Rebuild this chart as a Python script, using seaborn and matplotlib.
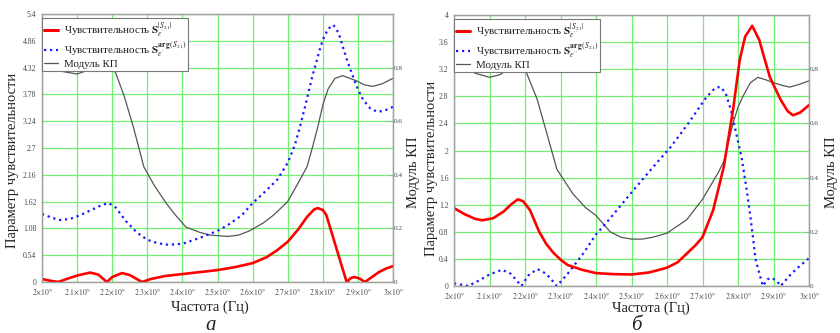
import numpy as np
import pandas as pd
import matplotlib
matplotlib.use("Agg")
import matplotlib.pyplot as plt
from matplotlib.lines import Line2D
import seaborn as sns

# ---------------- data (frequency in GHz, shown as Hz) ----------------
# Panel a (epsilon')
fa_red = [2.00, 2.02, 2.046, 2.07, 2.10, 2.137, 2.16, 2.185, 2.20, 2.228, 2.25, 2.285, 2.31, 2.35,
          2.40, 2.45, 2.50, 2.55, 2.60, 2.64, 2.67, 2.70, 2.73, 2.755, 2.775, 2.786, 2.80, 2.81,
          2.825, 2.84, 2.855, 2.868, 2.88, 2.89, 2.905, 2.92, 2.94, 2.96, 2.98, 3.00]
sa_mag = [0.06, 0.03, 0.0, 0.06, 0.13, 0.19, 0.15, 0.0, 0.10, 0.18, 0.14, 0.0, 0.06, 0.12,
          0.16, 0.20, 0.24, 0.30, 0.38, 0.50, 0.64, 0.81, 1.06, 1.31, 1.46, 1.49, 1.45, 1.35,
          1.00, 0.65, 0.30, 0.0, 0.08, 0.10, 0.07, 0.0, 0.10, 0.20, 0.27, 0.32]

fa_blue = [2.00, 2.03, 2.05, 2.08, 2.11, 2.14, 2.17, 2.19, 2.21, 2.24, 2.27, 2.30, 2.33, 2.36,
           2.40, 2.45, 2.50, 2.53, 2.57, 2.60, 2.64, 2.67, 2.70, 2.72, 2.735, 2.75, 2.77, 2.79,
           2.80, 2.815, 2.83, 2.845, 2.857, 2.87, 2.886, 2.90, 2.915, 2.935, 2.955, 2.975, 3.00]
sa_arg = [1.37, 1.29, 1.25, 1.27, 1.35, 1.45, 1.55, 1.59, 1.50, 1.22, 1.00, 0.85, 0.78, 0.75,
          0.77, 0.89, 1.03, 1.15, 1.35, 1.59, 1.85, 2.06, 2.40, 2.75, 3.13, 3.55, 4.14, 4.65,
          4.88, 5.10, 5.18, 5.02, 4.74, 4.45, 4.14, 3.88, 3.67, 3.50, 3.43, 3.45, 3.53]

fa_gray = [2.00, 2.03, 2.06, 2.10, 2.13, 2.155, 2.175, 2.19, 2.21, 2.235, 2.26, 2.29, 2.32, 2.356,
           2.38, 2.41, 2.45, 2.48, 2.53, 2.56, 2.59, 2.63, 2.66, 2.70, 2.73, 2.755, 2.77, 2.786,
           2.80, 2.815, 2.835, 2.857, 2.877, 2.897, 2.92, 2.943, 2.97, 3.00]
ka_mod = [0.84, 0.81, 0.785, 0.776, 0.79, 0.81, 0.817, 0.81, 0.78, 0.69, 0.58, 0.43, 0.36, 0.29,
          0.25, 0.205, 0.185, 0.175, 0.17, 0.175, 0.19, 0.22, 0.25, 0.30, 0.37, 0.43, 0.50, 0.58,
          0.66, 0.72, 0.76, 0.77, 0.76, 0.75, 0.735, 0.73, 0.74, 0.76]

# Panel b (epsilon'')
fb_red = [2.00, 2.03, 2.06, 2.08, 2.11, 2.14, 2.16, 2.18, 2.195, 2.214, 2.24, 2.26, 2.28, 2.30,
          2.32, 2.36, 2.40, 2.45, 2.50, 2.55, 2.60, 2.63, 2.656, 2.68, 2.70, 2.73, 2.76, 2.786,
          2.805, 2.82, 2.84, 2.86, 2.875, 2.89, 2.92, 2.94, 2.955, 2.975, 3.00]
sb_mag = [1.15, 1.06, 0.99, 0.97, 1.00, 1.10, 1.20, 1.28, 1.25, 1.12, 0.80, 0.62, 0.49, 0.39,
          0.31, 0.24, 0.19, 0.175, 0.17, 0.20, 0.27, 0.35, 0.48, 0.60, 0.72, 1.12, 1.76, 2.60,
          3.34, 3.68, 3.84, 3.63, 3.35, 3.08, 2.75, 2.58, 2.52, 2.56, 2.67]

fb_blue = [2.00, 2.02, 2.04, 2.07, 2.10, 2.135, 2.16, 2.19, 2.21, 2.235, 2.26, 2.29, 2.32, 2.36,
           2.40, 2.44, 2.50, 2.56, 2.61, 2.66, 2.71, 2.735, 2.75, 2.765, 2.78, 2.795, 2.81, 2.825,
           2.835, 2.85, 2.87, 2.883, 2.895, 2.91, 2.92, 2.95, 2.975, 3.00]
sb_arg = [0.04, 0.02, 0.0, 0.08, 0.17, 0.24, 0.18, 0.0, 0.16, 0.25, 0.18, 0.0, 0.18, 0.45,
          0.76, 1.00, 1.38, 1.75, 2.05, 2.40, 2.78, 2.92, 2.94, 2.85, 2.60, 2.25, 1.90, 1.40,
          1.02, 0.38, 0.0, 0.10, 0.12, 0.07, 0.0, 0.18, 0.30, 0.41]

fb_gray = [2.00, 2.03, 2.06, 2.10, 2.13, 2.16, 2.18, 2.20, 2.234, 2.26, 2.29, 2.335, 2.37, 2.40,
           2.44, 2.47, 2.50, 2.53, 2.56, 2.60, 2.656, 2.70, 2.745, 2.76, 2.786, 2.80, 2.814,
           2.835, 2.856, 2.88, 2.90, 2.925, 2.946, 2.975, 3.00]
kb_mod = [0.845, 0.81, 0.785, 0.77, 0.78, 0.81, 0.82, 0.80, 0.69, 0.57, 0.43, 0.34, 0.29, 0.26,
          0.20, 0.18, 0.173, 0.173, 0.18, 0.195, 0.245, 0.32, 0.42, 0.46, 0.60, 0.66, 0.70,
          0.75, 0.77, 0.76, 0.75, 0.74, 0.734, 0.745, 0.757]

xtick_vals = [2.0, 2.1, 2.2, 2.3, 2.4, 2.5, 2.6, 2.7, 2.8, 2.9, 3.0]
xtick_labels = [r"$2{\times}10^{9}$", r"$2.1{\times}10^{9}$", r"$2.2{\times}10^{9}$", r"$2.3{\times}10^{9}$",
                r"$2.4{\times}10^{9}$", r"$2.5{\times}10^{9}$", r"$2.6{\times}10^{9}$", r"$2.7{\times}10^{9}$",
                r"$2.8{\times}10^{9}$", r"$2.9{\times}10^{9}$", r"$3{\times}10^{9}$"]
ya_ticks = [0, 0.54, 1.08, 1.62, 2.16, 2.7, 3.24, 3.78, 4.32, 4.86, 5.4]
ya_labels = ["0", "0.54", "1.08", "1.62", "2.16", "2.7", "3.24", "3.78", "4.32", "4.86", "5.4"]
yb_ticks = [0, 0.4, 0.8, 1.2, 1.6, 2.0, 2.4, 2.8, 3.2, 3.6, 4.0]
yb_labels = ["0", "0.4", "0.8", "1.2", "1.6", "2", "2.4", "2.8", "3.2", "3.6", "4"]
yr_ticks = [0, 0.2, 0.4, 0.6, 0.8]
yr_labels = ["0", "0.2", "0.4", "0.6", "0.8"]

# ---------------- style ----------------
sns.set_theme(style="white")
plt.rcParams["font.family"] = ["Liberation Serif", "DejaVu Serif"]
plt.rcParams["mathtext.fontset"] = "stix"

RED = "#ff0000"
BLUE = "#1a1aff"
GRAY = "#555555"
GRID = "#72ee72"
SPINE = "#a0a0a0"
DOTS = (0, (1, 1.7))

fig = plt.figure(figsize=(8.4, 3.33), dpi=100)
W, H = 840.0, 333.0


def make_axes(x0, x1, y0, y1):
    return fig.add_axes([x0 / W, 1 - y1 / H, (x1 - x0) / W, (y1 - y0) / H])


def draw_panel(ax, fr, mag, fbl, arg, fg, mod, ymax, yticks, ylabels, sub):
    df_r = pd.DataFrame({"f": fr, "v": mag})
    df_b = pd.DataFrame({"f": fbl, "v": arg})
    df_g = pd.DataFrame({"f": fg, "v": mod})
    ax2 = ax.twinx()
    sns.lineplot(data=df_g, x="f", y="v", ax=ax2, color=GRAY, lw=0.9, sort=False)
    sns.lineplot(data=df_b, x="f", y="v", ax=ax, color=BLUE, lw=1.6, linestyle=DOTS, sort=False)
    sns.lineplot(data=df_r, x="f", y="v", ax=ax, color=RED, lw=1.9, sort=False)
    ax.set_zorder(ax2.get_zorder() + 1)
    ax.patch.set_visible(False)
    ax2.patch.set_visible(True)
    ax2.patch.set_facecolor("white")

    ax.set_xlim(2.0, 3.0)
    ax.set_ylim(0, ymax)
    ax2.set_ylim(0, 1.0)
    ax.set_xticks(xtick_vals)
    ax.set_xticklabels(xtick_labels, fontsize=5.5, color="#444444")
    ax.set_yticks(yticks)
    ax.set_yticklabels(ylabels, fontsize=5.5, color="#444444")
    ax2.set_yticks(yr_ticks)
    ax2.set_yticklabels(yr_labels, fontsize=5.2, color="#444444")
    ax.set_xlabel("")
    ax.set_ylabel("")
    ax2.set_ylabel("")
    ax.tick_params(axis="y", length=0, pad=4)
    ax.tick_params(axis="x", length=0, pad=3)
    ax2.tick_params(axis="y", length=3, width=0.6, color=SPINE, pad=0.5, direction="in")
    # grid drawn on the background (twin) axes
    for xv in xtick_vals:
        ax2.axvline(xv, color=GRID, lw=0.9, zorder=0)
    for yv in yticks:
        ax2.axhline(yv / ymax, color=GRID, lw=0.9, zorder=0)
    for a in (ax, ax2):
        for s in a.spines.values():
            s.set_color(SPINE)
            s.set_linewidth(0.9)
    handles = [Line2D([], [], color=RED, lw=2.2),
               Line2D([], [], color=BLUE, lw=1.6, linestyle=DOTS),
               Line2D([], [], color=GRAY, lw=0.9)]
    labels = [r"Чувствительность $\mathbf{S}_{\varepsilon" + sub + r"}^{|S_{21}|}$",
              r"Чувствительность $\mathbf{S}_{\varepsilon" + sub + r"}^{\mathbf{arg}\,(S_{21})}$",
              "Модуль КП"]
    leg = ax.legend(handles, labels, loc="upper left", bbox_to_anchor=(0.0, 0.985),
                    fontsize=7.9, frameon=True, fancybox=False, framealpha=1,
                    edgecolor="#777777", borderpad=0.2, labelspacing=0.0,
                    handlelength=1.3, handletextpad=0.5, borderaxespad=0)
    leg.get_frame().set_linewidth(0.8)
    for t in leg.get_texts():
        t.set_color("#222222")
    return ax2


axa = make_axes(42, 393, 14, 282)
draw_panel(axa, fa_red, sa_mag, fa_blue, sa_arg, fa_gray, ka_mod, 5.4, ya_ticks, ya_labels, "'")
axb = make_axes(454, 809, 15, 286)
draw_panel(axb, fb_red, sb_mag, fb_blue, sb_arg, fb_gray, kb_mod, 4.0, yb_ticks, yb_labels, "''")

# axis labels and captions
lab_kw = dict(fontsize=10.5, color="#222222")
fig.text(13 / W, 1 - 160 / H, "Параметр чувствительности", rotation=90, ha="center", va="center", **lab_kw)
fig.text(413 / W, 1 - 172 / H, "Модуль КП", rotation=90, ha="center", va="center", **lab_kw)
fig.text(432 / W, 1 - 168 / H, "Параметр чувствительности", rotation=90, ha="center", va="center", **lab_kw)
fig.text(832 / W, 1 - 172 / H, "Модуль КП", rotation=90, ha="center", va="center", **lab_kw)
fig.text(210 / W, 1 - 307 / H, "Частота (Гц)", ha="center", va="center", **lab_kw)
fig.text(651 / W, 1 - 308 / H, "Частота (Гц)", ha="center", va="center", **lab_kw)
fig.text(211 / W, 1 - 325 / H, "а", ha="center", va="center", fontsize=15, style="italic", color="#222222")
fig.text(636 / W, 1 - 325 / H, "б", ha="center", va="center", fontsize=15, style="italic", color="#222222")

fig.savefig("out.png", dpi=100, facecolor="white")
